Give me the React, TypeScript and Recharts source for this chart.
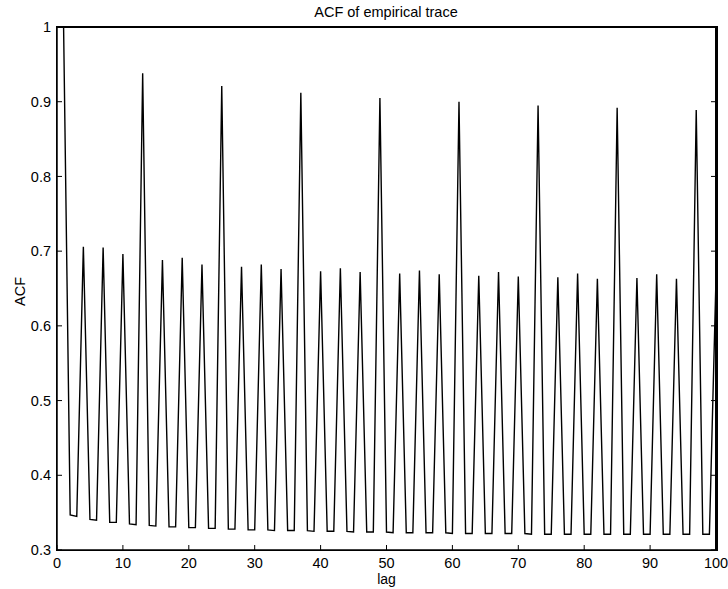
import { LineChart, Line, XAxis, YAxis, Label, ReferenceLine } from 'recharts';

// lag values 1..100
const lags = [
  1, 2, 3, 4, 5, 6, 7, 8, 9, 10,
  11, 12, 13, 14, 15, 16, 17, 18, 19, 20,
  21, 22, 23, 24, 25, 26, 27, 28, 29, 30,
  31, 32, 33, 34, 35, 36, 37, 38, 39, 40,
  41, 42, 43, 44, 45, 46, 47, 48, 49, 50,
  51, 52, 53, 54, 55, 56, 57, 58, 59, 60,
  61, 62, 63, 64, 65, 66, 67, 68, 69, 70,
  71, 72, 73, 74, 75, 76, 77, 78, 79, 80,
  81, 82, 83, 84, 85, 86, 87, 88, 89, 90,
  91, 92, 93, 94, 95, 96, 97, 98, 99, 100
];

// ACF
const acf = [
  1.0, 0.347, 0.345, 0.706, 0.341, 0.34, 0.705, 0.337, 0.337, 0.696,
  0.335, 0.334, 0.938, 0.333, 0.332, 0.688, 0.331, 0.331, 0.691, 0.33,
  0.33, 0.682, 0.329, 0.329, 0.921, 0.328, 0.328, 0.679, 0.327, 0.327,
  0.682, 0.327, 0.326, 0.676, 0.326, 0.326, 0.912, 0.326, 0.325, 0.673,
  0.325, 0.325, 0.677, 0.325, 0.324, 0.672, 0.324, 0.324, 0.905, 0.324,
  0.323, 0.67, 0.323, 0.323, 0.674, 0.323, 0.323, 0.669, 0.323, 0.322,
  0.9, 0.322, 0.322, 0.667, 0.322, 0.322, 0.672, 0.322, 0.322, 0.666,
  0.322, 0.321, 0.895, 0.321, 0.321, 0.665, 0.321, 0.321, 0.67, 0.321,
  0.321, 0.663, 0.321, 0.321, 0.892, 0.321, 0.321, 0.664, 0.321, 0.321,
  0.669, 0.321, 0.321, 0.663, 0.321, 0.321, 0.889, 0.321, 0.321, 0.664
];

const xTicks = [0, 10, 20, 30, 40, 50, 60, 70, 80, 90, 100];
const yTicks = [0.3, 0.4, 0.5, 0.6, 0.7, 0.8, 0.9, 1];

const data = lags.map((lag, i) => ({ lag, acf: acf[i] }));

const font = '"Liberation Sans", Arial, Helvetica, sans-serif';
const tickStyle = { fill: '#000', fontSize: 14.5, fontFamily: font };
const noText = () => <g />;

export default function App() {
  return (
    <div style={{ position: 'absolute', left: 0, top: 0, width: 728, height: 589, background: '#fff' }}>
      <LineChart
        width={728}
        height={589}
        data={data}
        margin={{ top: 27, right: 0, left: 0, bottom: 0 }}
      >
        <XAxis
          dataKey="lag"
          type="number"
          domain={[0, 100]}
          ticks={xTicks}
          tick={tickStyle}
          tickSize={-5}
          tickMargin={13}
          height={39}
          axisLine={{ stroke: '#000', strokeWidth: 1.5 }}
          tickLine={{ stroke: '#000' }}
        >
          <Label
            content={({ viewBox }: any) => (
              <text
                x={viewBox.x + viewBox.width / 2}
                y={584}
                textAnchor="middle"
                fill="#000"
                fontSize={14}
                fontFamily={font}
              >
                lag
              </text>
            )}
          />
        </XAxis>
        <YAxis
          type="number"
          domain={[0.3, 1]}
          ticks={yTicks}
          tick={tickStyle}
          tickFormatter={(v: number) => String(v)}
          tickSize={-5}
          tickMargin={11}
          width={57}
          axisLine={{ stroke: '#000', strokeWidth: 1.5 }}
          tickLine={{ stroke: '#000' }}
        >
          <Label
            content={({ viewBox }: any) => {
              const cy = viewBox.y + viewBox.height / 2 + 3;
              return (
                <g>
                  <text
                    x={20}
                    y={cy}
                    transform={`rotate(-90 20 ${cy})`}
                    textAnchor="middle"
                    dominantBaseline="central"
                    fill="#000"
                    fontSize={14.5}
                    fontFamily={font}
                  >
                    ACF
                  </text>
                  <text
                    x={386}
                    y={17}
                    textAnchor="middle"
                    fill="#000"
                    fontSize={14.5}
                    fontFamily={font}
                  >
                    ACF of empirical trace
                  </text>
                </g>
              );
            }}
          />
        </YAxis>
        <YAxis
          yAxisId="right"
          orientation="right"
          type="number"
          domain={[0.3, 1]}
          ticks={yTicks}
          tick={noText}
          tickSize={-5}
          width={12}
          axisLine={{ stroke: '#000', strokeWidth: 2 }}
          tickLine={{ stroke: '#000' }}
        />
        {/* frame top and right */}
        <ReferenceLine y={1} stroke="#000" strokeWidth={2} ifOverflow="extendDomain" />
        <ReferenceLine x={100} stroke="#000" strokeWidth={2} ifOverflow="extendDomain" />
        {/* invisible twin so the right axis ticks are drawn */}
        <Line
          yAxisId="right"
          type="linear"
          dataKey="acf"
          stroke="none"
          dot={false}
          activeDot={false}
          legendType="none"
          isAnimationActive={false}
        />
        <Line
          type="linear"
          dataKey="acf"
          stroke="#000"
          strokeWidth={1.4}
          dot={false}
          isAnimationActive={false}
        />
      </LineChart>
      {/* axes box (matlab style frame) */}
      <div
        style={{
          position: 'absolute',
          left: 56,
          top: 26,
          width: 662,
          height: 525,
          borderTop: '2px solid #000',
          borderRight: '2px solid #000',
          borderLeft: '1px solid #000',
          borderBottom: '1px solid #000',
          boxSizing: 'border-box',
          pointerEvents: 'none'
        }}
      />
    </div>
  );
}
